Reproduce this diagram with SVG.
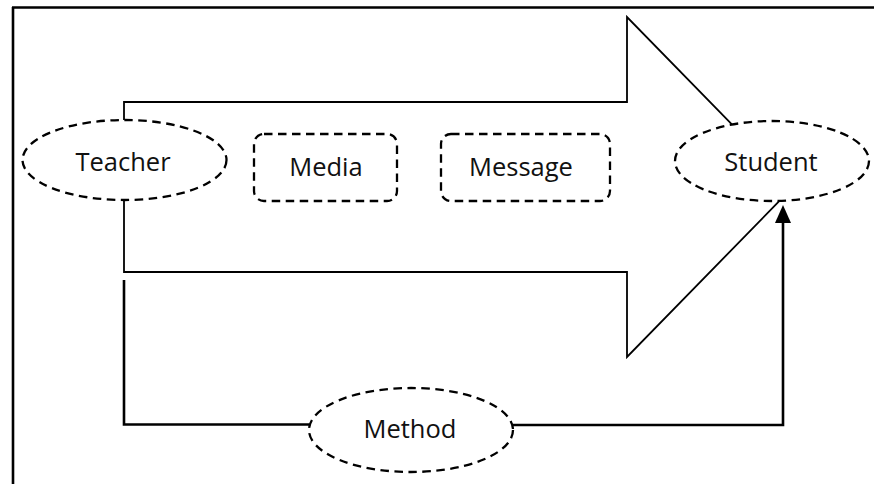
<svg xmlns="http://www.w3.org/2000/svg" width="874" height="484" viewBox="0 0 874 484">
<style>
.node{fill:#fff;stroke:#000;stroke-width:2.3;stroke-dasharray:8.5 5.5}
.lbl{font-family:"Open Sans","Noto Sans",sans-serif;font-size:25.5px;fill:#111;text-anchor:middle}
.conn{fill:none;stroke:#000;stroke-width:2.6}
</style>
<path d="M12,7.5 H874 M13,7 V484" fill="none" stroke="#000" stroke-width="2.6"/>
<g id="arrow">
<polygon points="124,102 627,102 627,17 793,187 627,357 627,272 124,272" fill="#fff" stroke="#000" stroke-width="1.8"/>
</g>
<g id="connectors">
<path class="conn" d="M124,280 V424.5 H309"/>
<path class="conn" d="M513,425 H783 V222"/>
<polygon points="783,205 775,223 791,223" fill="#000"/>
</g>
<g id="teacher">
<ellipse class="node" cx="124.5" cy="160" rx="102" ry="40"/>
<text class="lbl" x="123" y="171">Teacher</text>
</g>
<g id="media">
<rect class="node" x="254" y="134" width="143" height="67" rx="10"/>
<text class="lbl" x="326" y="176">Media</text>
</g>
<g id="message">
<rect class="node" x="441" y="134" width="169" height="67" rx="10"/>
<text class="lbl" x="521" y="176">Message</text>
</g>
<g id="student">
<ellipse class="node" cx="772" cy="161" rx="97" ry="40"/>
<text class="lbl" x="771" y="171">Student</text>
</g>
<g id="method">
<ellipse class="node" cx="411" cy="430" rx="102" ry="42"/>
<text class="lbl" x="410" y="438">Method</text>
</g>
</svg>
